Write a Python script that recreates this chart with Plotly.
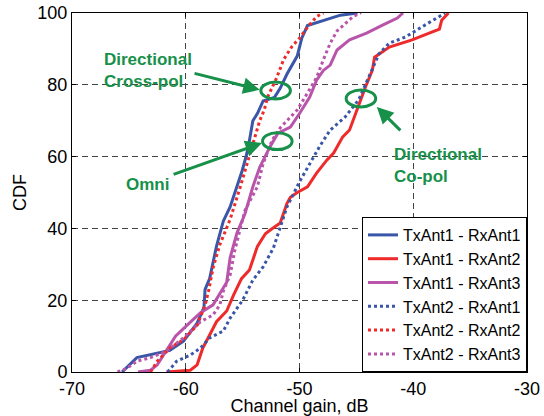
import plotly.graph_objects as go

# ---- data (channel gain in dB, CDF in %) ----
t1r1_x = [-65.6, -64.3, -61.4, -60.2, -59.0, -58.4, -58.3, -57.9, -57.3, -56.7, -56.1, -55.8, -55.05, -54.7,
          -54.5, -54.1, -53.7, -53.2, -52.2, -51.7, -51.1, -50.2, -49.8, -49.3, -47.9, -46.4, -44.9]
t1r1_y = [0, 4, 6, 8.6, 13.6, 18, 23, 26, 35, 42, 46, 48.7, 56, 60, 62.7, 70, 72, 75.5, 76.5, 79, 83, 88, 93,
          96.5, 98, 99.4, 100]

t1r2_x = [-61.7, -59.6, -59.0, -58.5, -57.9, -57.3, -56.4, -55.8, -55.1, -54.4, -53.7, -53.0, -52.6, -51.7,
          -51.1, -50.8, -50.2, -49.3, -48.5, -47.6, -47.0, -46.2, -45.6, -45.3, -44.8, -44.2, -43.6, -43.4,
          -42.1, -40.1, -38.6, -37.7, -37.5, -36.9]
t1r2_y = [0, 0.5, 2, 6.7, 10.3, 14, 17, 21.4, 26, 28.4, 35, 38.5, 39.5, 41.5, 47, 48.7, 50, 51.6, 55.4, 59,
          61, 65.5, 67.4, 70, 74, 79.4, 84, 87.7, 90.5, 92.5, 94.4, 95.5, 98, 100]

t1r3_x = [-64.2, -63.1, -62.5, -61.4, -60.9, -59.9, -58.7, -57.6, -56.8, -56.4, -56.1, -55.5, -54.8, -54.1,
          -53.5, -52.6, -51.9, -50.8, -50.0, -49.1, -48.5, -47.9, -47.3, -46.7, -45.6, -44.1, -42.7, -41.4,
          -40.9]
t1r3_y = [0, 0.5, 2, 7.5, 10, 13, 16.5, 18.7, 22.8, 25, 31.8, 38.7, 44, 51.6, 57, 62.7, 66.5, 68.2, 72, 76.6,
          81.3, 84, 85.5, 89.7, 92.5, 94.4, 96.6, 98.6, 100]

t2r1_x = [-61.6, -60.8, -59.6, -58.7, -57.9, -56.7, -56.1, -55.0, -54.1, -53.2, -52.3, -51.1, -50.0, -49.1,
          -48.2, -47.3, -46.0, -44.8, -43.9, -43.0, -42.1, -40.7, -39.2, -37.7, -37.2]
t2r1_y = [0, 3, 4.7, 6.7, 9.5, 11.4, 15, 20, 25.6, 29.3, 34.5, 46, 53, 58, 63, 67.4, 71, 75.8, 82, 88.7, 91.6,
          93.3, 96.2, 99, 100]

t2r2_x = [-63.1, -62.5, -61.4, -60.2, -59.0, -58.3, -58.0, -57.6, -57.0, -56.1, -55.2, -54.35, -53.5, -53.1,
          -52.8, -52.0, -51.4, -50.7, -50.0, -49.3, -48.5, -47.9]
t2r2_y = [0, 3, 6.7, 9, 13, 18.6, 22.5, 29, 35.5, 42.5, 51.6, 61, 70, 73, 76.6, 82, 87, 90.5, 93, 96, 99, 100]

t2r3_x = [-66.0, -65.2, -64.3, -63.1, -61.7, -60.2, -58.7, -57.6, -57.0, -56.7, -56.1, -55.7, -55.2, -54.8,
          -53.7, -53.2, -52.4, -51.7, -51.1, -50.2, -49.3, -48.5, -47.9, -47.3, -46.7, -45.3, -44.6]
t2r3_y = [0, 1, 3, 4, 5.8, 9.5, 14, 15.9, 18.7, 22.5, 27, 33.7, 40, 45, 51.6, 58, 64.6, 68, 70, 73, 77.7, 82,
          87, 91.6, 95, 99, 100]

names = ["TxAnt1 - RxAnt1", "TxAnt1 - RxAnt2", "TxAnt1 - RxAnt3",
         "TxAnt2 - RxAnt1", "TxAnt2 - RxAnt2", "TxAnt2 - RxAnt3"]
xs = [t1r1_x, t1r2_x, t1r3_x, t2r1_x, t2r2_x, t2r3_x]
ys = [t1r1_y, t1r2_y, t1r3_y, t2r1_y, t2r2_y, t2r3_y]

x_ticks = [-70, -60, -50, -40, -30]
x_tick_text = ["-70", "-60", "-50", "-40", "-30"]
y_ticks = [0, 20, 40, 60, 80, 100]
y_tick_text = ["0", "20", "40", "60", "80", "100"]

# annotation anchors (data coords)
ellipses = [(-52.1, 78.4), (-51.95, 64.3), (-44.6, 76.2)]
arrows = [((-59.36, 83.3), (-53.5, 78.6)),
          ((-61.2, 54.9), (-53.3, 63.8)),
          ((-41.0, 66.9), (-43.2, 73.8))]
labels = [("Directional<br>Cross-pol", -67.4, 84.0, "left"),
          ("Omni", -63.4, 52.1, "center"),
          ("Directional<br>Co-pol", -41.9, 57.4, "left")]

BLUE = "#3a56a8"
RED = "#ee2a2a"
MAG = "#b855aa"
GREEN = "#17904a"
colors = [BLUE, RED, MAG, BLUE, RED, MAG]
dashes = ["solid", "solid", "solid", "dot", "dot", "dot"]

FONT = "Liberation Sans, Arial, sans-serif"

fig = go.Figure()
for x, y, n, c, d in zip(xs, ys, names, colors, dashes):
    fig.add_trace(go.Scatter(x=x, y=y, mode="lines", name=n,
                             line=dict(color=c, width=3, dash=d)))

for cx, cy in ellipses:
    fig.add_shape(type="circle", xref="x", yref="y",
                  x0=cx - 1.3, x1=cx + 1.3, y0=cy - 2.35, y1=cy + 2.35,
                  line=dict(color=GREEN, width=3))

for (tx, ty), (hx, hy) in arrows:
    fig.add_annotation(x=hx, y=hy, ax=tx, ay=ty, xref="x", yref="y", axref="x", ayref="y",
                       text="", showarrow=True, arrowhead=2, arrowsize=1.1, arrowwidth=3,
                       arrowcolor=GREEN)

for txt, x, y, al in labels:
    fig.add_annotation(x=x, y=y, xref="x", yref="y", text="<b>" + txt + "</b>",
                       showarrow=False, xanchor=al, yanchor="middle", align="left",
                       font=dict(family=FONT, size=17, color=GREEN))

axis_common = dict(showline=True, linecolor="black", linewidth=1, mirror="ticks",
                   ticks="inside", ticklen=4, tickcolor="black", automargin=False,
                   showgrid=True, gridcolor="#444444", gridwidth=1, griddash="6px,4px",
                   zeroline=False, tickfont=dict(family=FONT, size=18, color="black"))

fig.update_xaxes(range=[-70, -30], tickmode="array", tickvals=x_ticks, ticktext=x_tick_text,
                 title=dict(text="Channel gain, dB", standoff=3,
                            font=dict(family=FONT, size=18, color="black")),
                 **axis_common)
fig.update_yaxes(range=[0, 100], tickmode="array", tickvals=y_ticks, ticktext=y_tick_text,
                 title=dict(text="CDF", standoff=6,
                            font=dict(family=FONT, size=18, color="black")),
                 **axis_common)

fig.update_layout(
    width=544, height=416,
    margin=dict(l=72, r=17, t=13, b=44, autoexpand=False),
    paper_bgcolor="white", plot_bgcolor="white",
    font=dict(family=FONT, size=16, color="black"),
    showlegend=True,
    legend=dict(x=1, y=0.0, xanchor="right", yanchor="bottom",
                bgcolor="white", bordercolor="black", borderwidth=1,
                font=dict(family=FONT, size=16, color="black"),
                tracegroupgap=0, itemwidth=30),
)

fig.write_html("out.html")
